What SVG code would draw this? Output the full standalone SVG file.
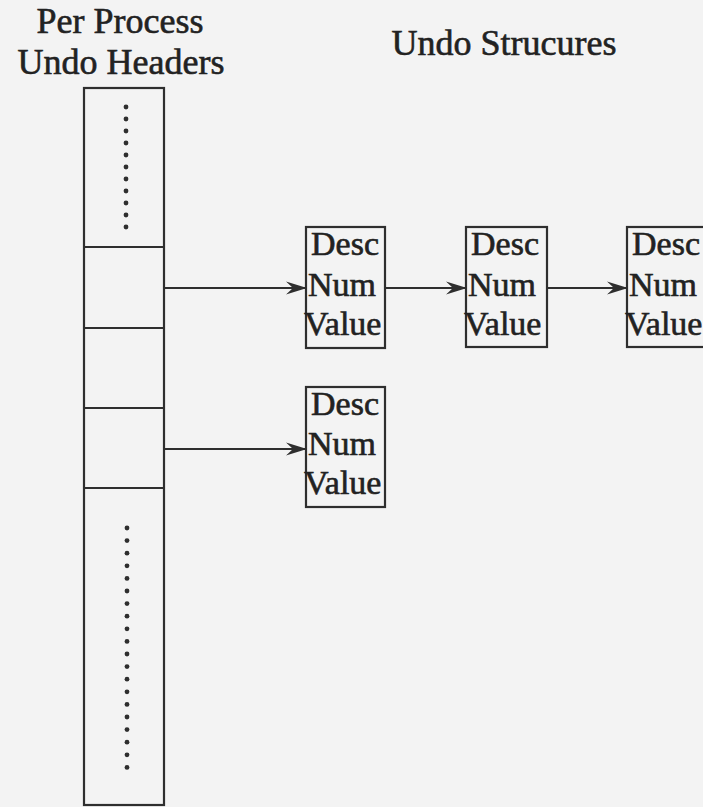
<svg xmlns="http://www.w3.org/2000/svg" width="703" height="807" viewBox="0 0 703 807">
<style>
.hd{font-family:"Liberation Serif",serif;font-size:36px;fill:#222;stroke:#222;stroke-width:0.6}
.bt{font-family:"Liberation Serif",serif;font-size:34px;fill:#222;stroke:#222;stroke-width:0.6}
.ln{stroke:#2e2e2e;stroke-width:2.2;fill:none}
.dot{fill:#2e2e2e}
</style>
<defs>
<marker id="ah" markerWidth="24" markerHeight="16" refX="21" refY="8" markerUnits="userSpaceOnUse" orient="auto">
<path d="M0,1.5 L21,8 L0,14.5 L7,8 z" fill="#2e2e2e"/>
</marker>
</defs>
<rect width="703" height="807" fill="#f3f3f3"/>
<text class="hd" x="120" y="33" text-anchor="middle">Per Process</text>
<text class="hd" x="121" y="74" text-anchor="middle">Undo Headers</text>
<text class="hd" x="504" y="55" text-anchor="middle">Undo Strucures</text>
<g id="headers">
<rect class="ln" x="84" y="88" width="80" height="717"/>
<line class="ln" x1="84" y1="247" x2="164" y2="247"/>
<line class="ln" x1="84" y1="328" x2="164" y2="328"/>
<line class="ln" x1="84" y1="408" x2="164" y2="408"/>
<line class="ln" x1="84" y1="488" x2="164" y2="488"/>
<g class="dot">
<circle cx="126" cy="107" r="2.4"/><circle cx="126" cy="119" r="2.4"/><circle cx="126" cy="131" r="2.4"/><circle cx="126" cy="143" r="2.4"/><circle cx="126" cy="155" r="2.4"/><circle cx="126" cy="167" r="2.4"/><circle cx="126" cy="179" r="2.4"/><circle cx="126" cy="191" r="2.4"/><circle cx="126" cy="203" r="2.4"/><circle cx="126" cy="215" r="2.4"/><circle cx="126" cy="227" r="2.4"/>
<circle cx="127" cy="528" r="2.4"/><circle cx="127" cy="540.6" r="2.4"/><circle cx="127" cy="553.2" r="2.4"/><circle cx="127" cy="565.8" r="2.4"/><circle cx="127" cy="578.4" r="2.4"/><circle cx="127" cy="591" r="2.4"/><circle cx="127" cy="603.6" r="2.4"/><circle cx="127" cy="616.2" r="2.4"/><circle cx="127" cy="628.8" r="2.4"/><circle cx="127" cy="641.4" r="2.4"/><circle cx="127" cy="654" r="2.4"/><circle cx="127" cy="666.6" r="2.4"/><circle cx="127" cy="679.2" r="2.4"/><circle cx="127" cy="691.8" r="2.4"/><circle cx="127" cy="704.4" r="2.4"/><circle cx="127" cy="717" r="2.4"/><circle cx="127" cy="729.6" r="2.4"/><circle cx="127" cy="742.2" r="2.4"/><circle cx="127" cy="754.8" r="2.4"/><circle cx="127" cy="767.4" r="2.4"/>
</g>
</g>
<g id="undo1">
<rect class="ln" x="306" y="227" width="79" height="121"/>
<text class="bt" x="311" y="255">Desc</text>
<text class="bt" x="308" y="296">Num</text>
<text class="bt" x="304" y="335">Value</text>
</g>
<g id="undo2">
<rect class="ln" x="466" y="227" width="81" height="120"/>
<text class="bt" x="471" y="255">Desc</text>
<text class="bt" x="468" y="296">Num</text>
<text class="bt" x="464" y="335">Value</text>
</g>
<g id="undo3">
<rect class="ln" x="627" y="227" width="90" height="120"/>
<text class="bt" x="632" y="255">Desc</text>
<text class="bt" x="629" y="296">Num</text>
<text class="bt" x="625" y="335">Value</text>
</g>
<g id="undo4">
<rect class="ln" x="306" y="387" width="79" height="120"/>
<text class="bt" x="311" y="415">Desc</text>
<text class="bt" x="308" y="455">Num</text>
<text class="bt" x="304" y="494">Value</text>
</g>
<g id="connectors">
<line class="ln" x1="164" y1="288" x2="307" y2="288" marker-end="url(#ah)"/>
<line class="ln" x1="385" y1="288" x2="467" y2="288" marker-end="url(#ah)"/>
<line class="ln" x1="547" y1="288" x2="628" y2="288" marker-end="url(#ah)"/>
<line class="ln" x1="164" y1="449" x2="307" y2="449" marker-end="url(#ah)"/>
</g>
</svg>
